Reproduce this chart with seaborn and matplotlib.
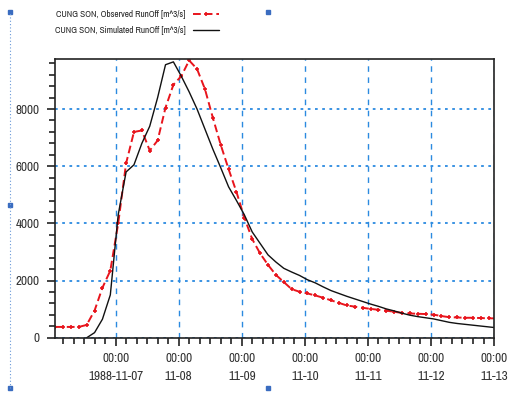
import numpy as np
import pandas as pd
import seaborn as sns
import matplotlib.pyplot as plt
import matplotlib.dates as mdates
from matplotlib.lines import Line2D
from matplotlib.patches import Rectangle
from matplotlib.ticker import MultipleLocator

# 3-hourly series starting 1988-11-06 01:00
start = '1988-11-06 01:00'
observed = [380, 380, 380, 380, 450, 950, 1750, 2350, 4000, 6100,
            7200, 7250, 6550, 6900, 8050, 8850, 9150, 9700, 9400, 8700,
            7700, 6750, 5900, 5100, 4200, 3450, 2950, 2550, 2200, 1950,
            1700, 1610, 1550, 1480, 1400, 1310, 1220, 1130, 1090, 1050,
            1010, 980, 950, 910, 870, 850, 840, 830, 810, 760,
            720, 710, 700, 700, 690, 680, 680]
simulated = [np.nan, np.nan, np.nan, np.nan, 0, 180, 650, 1500, 4300, 5800,
             6050, 6800, 7400, 8400, 9550, 9650, 9150, 8600, 8000, 7300,
             6600, 5950, 5280, 4800, 4300, 3700, 3300, 2900, 2650, 2430,
             2300, 2180, 2030, 1920, 1780, 1650, 1550, 1450, 1360, 1270,
             1180, 1100, 1010, 940, 860, 790, 740, 700, 660, 600,
             540, 500, 470, 440, 410, 380, 350]
day_ticks = ['1988-11-07', '1988-11-08', '1988-11-09', '1988-11-10',
             '1988-11-11', '1988-11-12', '1988-11-13']
day_labels = ['00:00\n1988-11-07', '00:00\n11-08', '00:00\n11-09', '00:00\n11-10',
              '00:00\n11-11', '00:00\n11-12', '00:00\n11-13']
y_ticks = [0, 2000, 4000, 6000, 8000]

times = pd.date_range(start, periods=len(observed), freq='3h')
df = pd.DataFrame({'time': times, 'obs': observed, 'sim': simulated})

sns.set_style('white')
plt.rcParams['font.family'] = ['Archivo Narrow', 'Liberation Sans', 'DejaVu Sans']

fig = plt.figure(figsize=(5.25, 3.96), dpi=100)
ax = fig.add_axes([0.105, 0.147, 0.836, 0.704])

red = '#e8141c'
sns.lineplot(data=df, x='time', y='obs', ax=ax, color=red, lw=1.4,
             linestyle=(0, (4, 2)), marker='+', markersize=3.5, markeredgewidth=1.2,
             markeredgecolor=red, markerfacecolor=red,
             label='CUNG SON, Observed RunOff [m^3/s]')
sns.lineplot(data=df, x='time', y='sim', ax=ax, color='#111111', lw=1.0,
             label='CUNG SON, Simulated RunOff [m^3/s]')

ax.set_xlim(pd.Timestamp('1988-11-06 01:00'), pd.Timestamp('1988-11-13 00:00'))
ax.set_ylim(0, 9750)
ax.set_xlabel('')
ax.set_ylabel('')

ax.set_xticks(pd.to_datetime(day_ticks))
ax.set_xticklabels(day_labels, fontsize=9.5, linespacing=1.75, color='#333333')
ax.xaxis.set_minor_locator(mdates.HourLocator(byhour=[0, 4, 8, 12, 16, 20]))
ax.set_yticks(y_ticks)
ax.set_yticklabels([str(v) for v in y_ticks], fontsize=9.5, color='#333333')
ax.yaxis.set_minor_locator(MultipleLocator(400))
ax.tick_params(axis='both', which='both', bottom=True, left=True, top=False, right=False)
ax.tick_params(axis='both', which='major', direction='out', length=6, width=1.2, color='#222222')
ax.tick_params(axis='both', which='minor', direction='out', length=4, width=1.2, color='#222222')
ax.tick_params(axis='x', which='major', pad=5)
ax.tick_params(axis='y', which='major', pad=5)

ax.grid(axis='x', which='major', color='#2b8ae0', linestyle=(0, (4, 4)), lw=1)
ax.grid(axis='y', which='major', color='#2b8ae0', linestyle=(0, (1.5, 2.5)), lw=1.3)
for s in ax.spines.values():
    s.set_color('#222222')
    s.set_linewidth(1.2)

ax.get_legend().remove()
handles, labels = ax.get_legend_handles_labels()
fig.legend(handles, labels, loc='upper left', bbox_to_anchor=(0.105, 0.975), frameon=False,
           markerfirst=False, fontsize=6.6, handlelength=2.8, handletextpad=0.8,
           labelspacing=0.75, borderaxespad=0, borderpad=0, labelcolor='#222222')

# screenshot frame bits
fig.add_artist(Line2D([10 / 525, 10 / 525], [0.02, 0.97], color='#6a9ad8', lw=0.8,
                      linestyle=(0, (1, 2)), transform=fig.transFigure))
for (px, py) in [(10, 12), (268, 12), (10, 205), (10, 388), (268, 388)]:
    fig.add_artist(Rectangle((px / 525 - 0.004, 1 - py / 396 - 0.005), 0.008, 0.01,
                             color='#3a6cc0', transform=fig.transFigure))

fig.savefig('out.png', dpi=100)
